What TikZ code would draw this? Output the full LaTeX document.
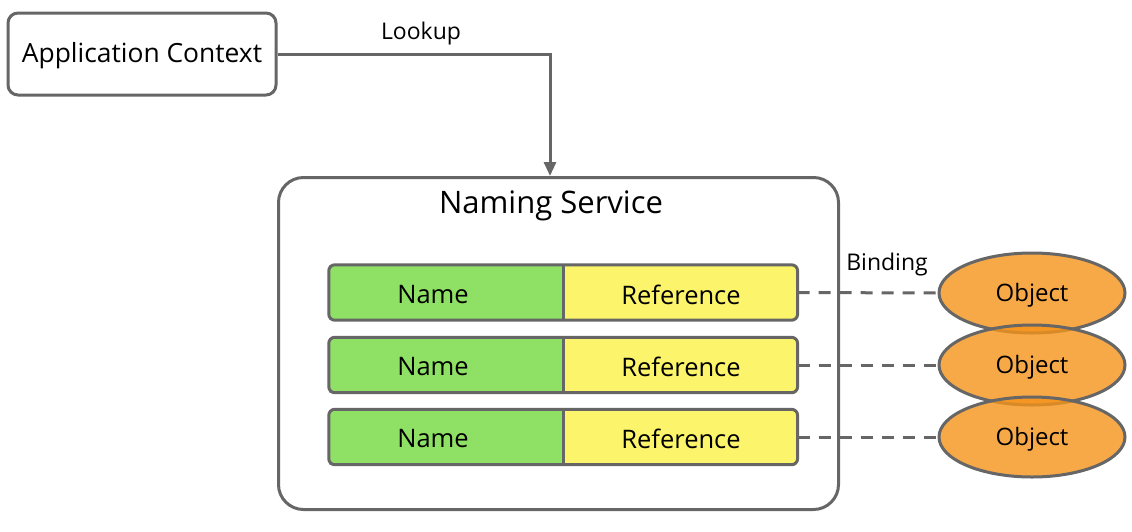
\documentclass[tikz,border=0pt]{standalone}
\usepackage{fontspec}
\setmainfont{Open Sans}
\usetikzlibrary{shapes.geometric,arrows.meta}
\definecolor{edge}{HTML}{666666}
\definecolor{namegreen}{HTML}{8EE164}
\definecolor{refyellow}{HTML}{FCF46A}
\definecolor{objorange}{HTML}{F59219}
\tikzset{
  box/.style={draw=edge,line width=3pt,rounded corners=10pt,fill=white},
  namecell/.style={fill=namegreen,minimum width=234pt,minimum height=55pt,inner sep=0pt},
  refcell/.style={fill=refyellow,minimum width=234pt,minimum height=55pt,inner sep=0pt},
  celltext/.style={font=\fontsize{25.5}{30}\selectfont,inner sep=0pt},
  rowline/.style={draw=edge,line width=3pt,rounded corners=6pt},
  obj/.style={ellipse,draw=edge,line width=3pt,fill=objorange,fill opacity=0.8,minimum width=186pt,minimum height=80pt,inner sep=0pt},
  objtext/.style={font=\fontsize{24}{28}\selectfont,inner sep=0pt},
  bind/.style={draw=edge,line width=3pt,dash pattern=on 12pt off 9pt},
  lbl/.style={font=\fontsize{23}{27}\selectfont,inner sep=0pt},
  conn/.style={draw=edge,line width=3pt,-{Triangle[length=14pt,width=12pt]}}
}
\begin{document}
\begin{tikzpicture}[x=1pt,y=-1pt]
\useasboundingbox (0,0) rectangle (1132,531);
\node[box,minimum width=268pt,minimum height=82pt] (ac) at (142,54) {};
\node[font=\fontsize{26.4}{31}\selectfont,inner sep=0pt] (act) at (142,56) {Application Context};
\node[box,rounded corners=25pt,minimum width=560pt,minimum height=332pt,anchor=north west] (ns) at (277,176) {};
\node[font=\fontsize{31}{36}\selectfont,inner sep=0pt] (nst) at (551,206) {Naming Service};
\coordinate (lk) at (550,176);
\draw[conn] (ac.east) -| (lk);
\node[lbl] (lookup) at (421,34) {Lookup};

\foreach \i/\y in {1/292.5,2/365,3/437}{
  \node[namecell] (n\i) at (446,\y) {};
  \node[refcell,anchor=west] (r\i) at (n\i.east) {};
  \node[celltext] (nt\i) at (433,\y+2) {Name};
  \node[celltext] (rt\i) at (681,\y+2) {Reference};
  \draw[rowline] (n\i.north west) rectangle (r\i.south east);
  \draw[draw=edge,line width=3pt] (n\i.north east) -- (n\i.south east);
}
\foreach \i/\y in {1/293,2/365,3/437}{
  \node[obj] (o\i) at (1032,\y) {};
  \node[objtext] (ot\i) at (1032,\y+2) {Object};
}
\foreach \i in {1,2,3}{
  \draw[bind] (r\i.east) -- (o\i.west);
}
\node[lbl] (binding) at (887,265) {Binding};
\end{tikzpicture}
\end{document}
